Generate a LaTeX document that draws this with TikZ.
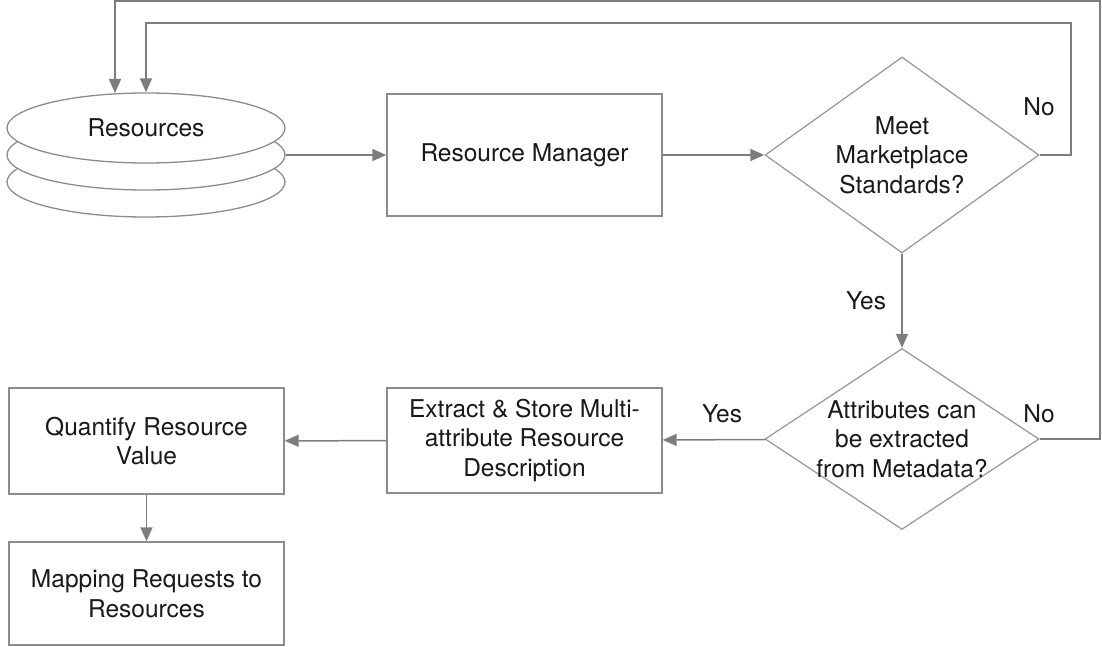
\documentclass[tikz,border=0pt]{standalone}
\usepackage{fontspec}
\setmainfont{TeX Gyre Heros}
\usetikzlibrary{shapes.geometric,arrows.meta}
\definecolor{edgegray}{RGB}{125,125,125}
\definecolor{bordergray}{RGB}{140,140,140}
\definecolor{diagray}{RGB}{155,155,155}
\definecolor{inkcol}{RGB}{25,25,25}

\begin{document}
\begin{tikzpicture}[x=1pt,y=-1pt,
  every node/.style={font=\fontsize{24.5}{29.5}\selectfont, text=inkcol},
  procbox/.style={draw=bordergray, line width=1.4pt, fill=white,
    minimum width=275pt, inner sep=0pt, align=center},
  decision/.style={diamond, draw=diagray, line width=1.3pt, inner sep=0pt,
    minimum width=274pt},
  disk/.style={ellipse, draw=bordergray, line width=1.3pt, fill=white,
    minimum width=278pt, minimum height=70pt, inner sep=0pt},
  flow/.style={draw=edgegray, line width=1.5pt,
    -{Triangle[length=14pt,width=12pt]}},
  lbl/.style={anchor=base, inner sep=0pt},
]
\useasboundingbox (0,0) rectangle (1102,647);

% stacked resource store
\node[disk] (res3) at (146,182) {};
\node[disk] (res2) at (146,155) {};
\node[disk] (res)  at (146,128) {Resources};

% process boxes
\node[procbox, minimum height=122pt] (mgr) at (524.5,155) {Resource Manager};
\node[procbox, minimum height=105pt] (ext) at (524.5,440.5)
  {Extract \& Store Multi-\\attribute Resource\\Description};
\node[procbox, minimum height=106pt] (qty) at (146.5,441) {Quantify Resource\\Value};
\node[procbox, minimum height=103pt] (map) at (146.5,593.5) {Mapping Requests to\\Resources};

% decisions
\node[decision, minimum height=196pt,
  label={[align=center]center:Meet\\Marketplace\\Standards?}] (d1) at (902,155) {};
\node[decision, minimum height=181pt,
  label={[align=center]center:Attributes can\\be extracted\\from Metadata?}] (d2) at (902,439) {};

% loop-back end points
\coordinate (outerEnd) at (115,93);

% main flow
\draw[flow] (res2.east) -- (mgr.west);
\draw[flow] (mgr) -- (d1);
\draw[flow] (d1) -- (d2);
\draw[flow] (d2) -- (ext);
\draw[flow] (ext) -- (qty);
\draw[flow] (qty) -- (map);

% rejections back to the store
\draw[flow] (d1.east) -| (1071,23) -| (res.north);
\draw[flow] (d2.east) -| (1100,1) -| (outerEnd);

% branch labels
\node[lbl] (yes1) at (866,309) {Yes};
\node[lbl] (no1)  at (1039,116) {No};
\node[lbl] (no2)  at (1039,422) {No};
\node[lbl] (yes2) at (722,422) {Yes};
\end{tikzpicture}
\end{document}
